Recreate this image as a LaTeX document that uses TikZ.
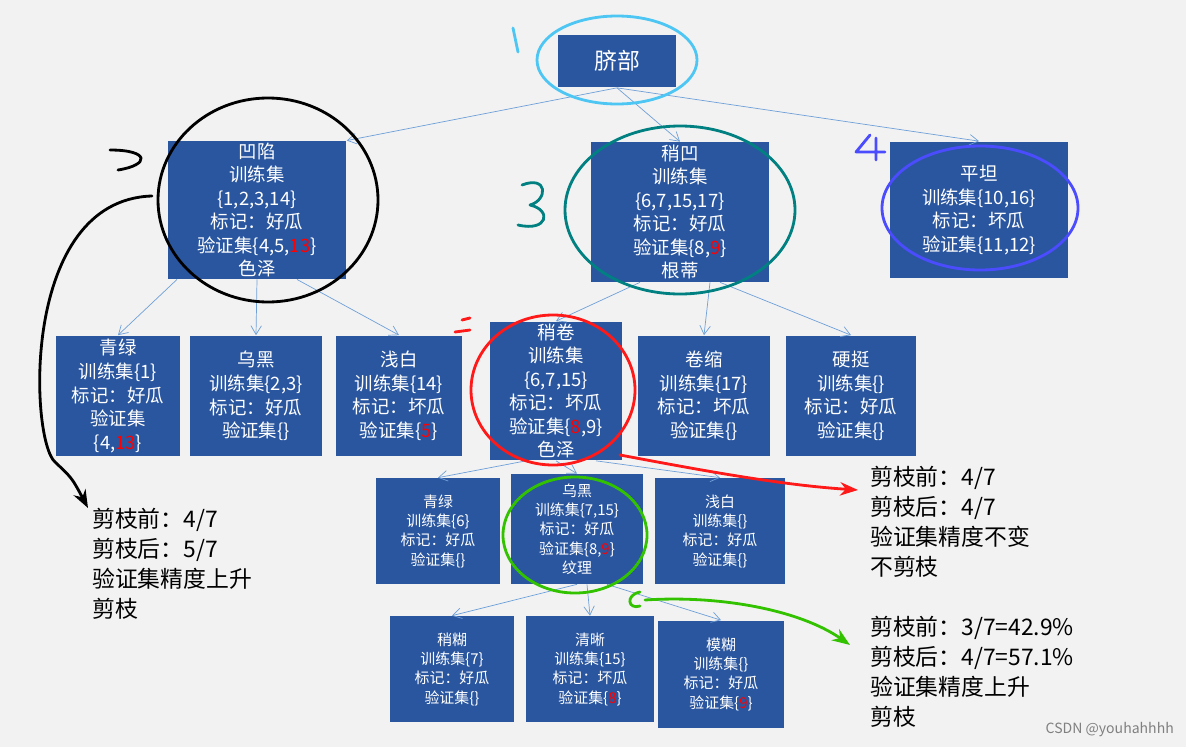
\documentclass[tikz,border=0pt]{standalone}
\usepackage{fontspec}
\setmainfont{Noto Sans CJK SC}
\usepackage{xcolor}
\usetikzlibrary{arrows.meta,positioning}
\definecolor{boxblue}{HTML}{2A56A0}
\definecolor{edgeblue}{HTML}{6FA0D8}
\definecolor{bggray}{HTML}{F2F2F2}
\newcommand{\R}[1]{\textcolor{red}{#1}}
\begin{document}
\begin{tikzpicture}[x=0.02cm,y=-0.02cm,
    box/.style={fill=boxblue, text=white, align=center, inner sep=1pt,
                font=\fontsize{10.5}{13.4}\selectfont},
    smallbox/.style={box, font=\fontsize{8.5}{11}\selectfont},
    edge/.style={-{Straight Barb[length=5pt,width=6pt]}, edgeblue, thin},
    note/.style={align=left, anchor=north west, font=\fontsize{13}{17}\selectfont},
    ink/.style={line width=1.6pt, line cap=round, line join=round}
]
    \fill[bggray] (0,0) rectangle (1186,747);
    \useasboundingbox (0,0) rectangle (1186,747);

    % Level 0
    \node[box, minimum width=2.36cm, minimum height=1.06cm, font=\fontsize{13}{15}\selectfont] (root) at (617,61) {脐部};

    % Level 1
    \node[box, minimum width=3.58cm, minimum height=2.76cm] (aoxian) at (257,210)
        {凹陷\\训练集\\\{1,2,3,14\}\\标记：好瓜\\验证集\{4,5,\R{13}\}\\色泽};
    \node[box, minimum width=3.56cm, minimum height=2.8cm] (shaoao) at (680,212)
        {稍凹\\训练集\\\{6,7,15,17\}\\标记：好瓜\\验证集\{8,\R{9}\}\\根蒂};
    \node[box, minimum width=3.56cm, minimum height=2.74cm] (pingtan) at (979,210)
        {平坦\\训练集\{10,16\}\\标记：坏瓜\\验证集\{11,12\}};

    % Level 2
    \node[box, minimum width=2.5cm, minimum height=2.42cm] (qinglv) at (118,396)
        {青绿\\训练集\{1\}\\标记：好瓜\\验证集\\\{4,\R{13}\}};
    \node[box, minimum width=2.64cm, minimum height=2.42cm] (wuhei) at (256,396)
        {乌黑\\训练集\{2,3\}\\标记：好瓜\\验证集\{\}};
    \node[box, minimum width=2.52cm, minimum height=2.42cm] (qianbai) at (399,396)
        {浅白\\训练集\{14\}\\标记：坏瓜\\验证集\{\R{5}\}};
    \node[box, minimum width=2.64cm, minimum height=2.78cm] (shaojuan) at (556,391)
        {稍卷\\训练集\\\{6,7,15\}\\标记：坏瓜\\验证集\{\R{8},9\}\\色泽};
    \node[box, minimum width=2.64cm, minimum height=2.42cm] (juansuo) at (704,396)
        {卷缩\\训练集\{17\}\\标记：坏瓜\\验证集\{\}};
    \node[box, minimum width=2.6cm, minimum height=2.42cm] (yingting) at (851,396)
        {硬挺\\训练集\{\}\\标记：好瓜\\验证集\{\}};

    % Level 3
    \node[smallbox, minimum width=2.5cm, minimum height=2.12cm] (qinglv2) at (438,531)
        {青绿\\训练集\{6\}\\标记：好瓜\\验证集\{\}};
    \node[smallbox, minimum width=2.64cm, minimum height=2.2cm] (wuhei2) at (577,529)
        {乌黑\\训练集\{7,15\}\\标记：好瓜\\验证集\{8,\R{9}\}\\纹理};
    \node[smallbox, minimum width=2.6cm, minimum height=2.12cm] (qianbai2) at (720,531)
        {浅白\\训练集\{\}\\标记：好瓜\\验证集\{\}};

    % Level 4
    \node[smallbox, minimum width=2.5cm, minimum height=2.12cm] (shaohu) at (452,669)
        {稍糊\\训练集\{7\}\\标记：好瓜\\验证集\{\}};
    \node[smallbox, minimum width=2.58cm, minimum height=2.12cm] (qingxi) at (590,669)
        {清晰\\训练集\{15\}\\标记：坏瓜\\验证集\{\R{8}\}};
    \node[smallbox, minimum width=2.52cm, minimum height=2.14cm] (mohu) at (721,674)
        {模糊\\训练集\{\}\\标记：好瓜\\验证集\{\R{9}\}};

    % Arrows
    \draw[edge] (root.south) -- (aoxian.north east);
    \draw[edge] (root.south) -- (shaoao.north);
    \draw[edge] (root.south) -- (pingtan.north);
    \draw[edge] (aoxian.south) ++(-80,0) -- (qinglv.north);
    \draw[edge] (aoxian.south) -- (wuhei.north);
    \draw[edge] (aoxian.south) ++(40,0) -- (qianbai.north);
    \draw[edge] (shaoao.south) ++(-40,0) -- (shaojuan.north);
    \draw[edge] (shaoao.south) ++(30,0) -- (juansuo.north);
    \draw[edge] (shaoao.south) ++(40,0) -- (yingting.north);
    \draw[edge] (shaojuan.south) ++(-30,0) -- (qinglv2.north);
    \draw[edge] (shaojuan.south) -- (wuhei2.north);
    \draw[edge] (shaojuan.south) ++(40,0) -- (qianbai2.north);
    \draw[edge] (wuhei2.south) -- (shaohu.north);
    \draw[edge] (wuhei2.south) ++(10,0) -- (qingxi.north);
    \draw[edge] (wuhei2.south) ++(30,0) -- (mohu.north);

    % Notes
    \node[note] (note1) at (86,502) {剪枝前：4/7\\剪枝后：5/7\\验证集精度上升\\剪枝};
    \node[note] (note2) at (864,460) {剪枝前：4/7\\剪枝后：4/7\\验证集精度不变\\不剪枝};
    \node[note] (note3) at (864,610) {剪枝前：3/7=42.9\%\\剪枝后：4/7=57.1\%\\验证集精度上升\\剪枝};
    \node[anchor=south east, font=\fontsize{8}{9}\selectfont, text=gray] (mark) at (1180,743) {CSDN @youhahhhh};

    % Hand-drawn marks
    \draw[ink, cyan!70!white] (617,60) ellipse [x radius=80, y radius=44];
    \draw[ink, cyan!70!white] (513,28) -- (518,52);
    \draw[ink] (268,200) ellipse [x radius=110, y radius=102];
    \draw[ink] (110,150) .. controls (150,150) and (150,165) .. (118,170);
    \draw[ink, -{Stealth}] (152,196) .. controls (20,200) and (30,440) .. (55,462)
        .. controls (72,478) .. (88,508);
    \draw[ink, teal] (680,210) ellipse [x radius=115, y radius=84];
    \draw[ink, teal] (522,185) .. controls (548,175) and (548,200) .. (530,205)
        .. controls (552,210) and (548,232) .. (518,225);
    \draw[ink, blue!70!white] (980,208) ellipse [x radius=98, y radius=62];
    \draw[ink, blue!70!white] (870,135) -- (856,152) -- (885,152) (876,138) -- (876,160);
    \draw[ink, red!90!white] (553,390) ellipse [x radius=82, y radius=75];
    \draw[ink, red!90!white] (462,320) -- (470,318) (455,332) -- (470,330);
    \draw[ink, red!90!white, -{Stealth}] (620,455) .. controls (700,470) and (780,485) .. (858,490);
    \draw[ink, green!70!black!80!yellow] (575,535) ellipse [x radius=72, y radius=58];
    \draw[ink, green!70!black!80!yellow] (640,592) .. controls (625,595) and (628,610) .. (640,606);
    \draw[ink, green!70!black!80!yellow, -{Stealth}] (645,600) .. controls (720,595) and (800,610) .. (850,645);
\end{tikzpicture}
\end{document}
